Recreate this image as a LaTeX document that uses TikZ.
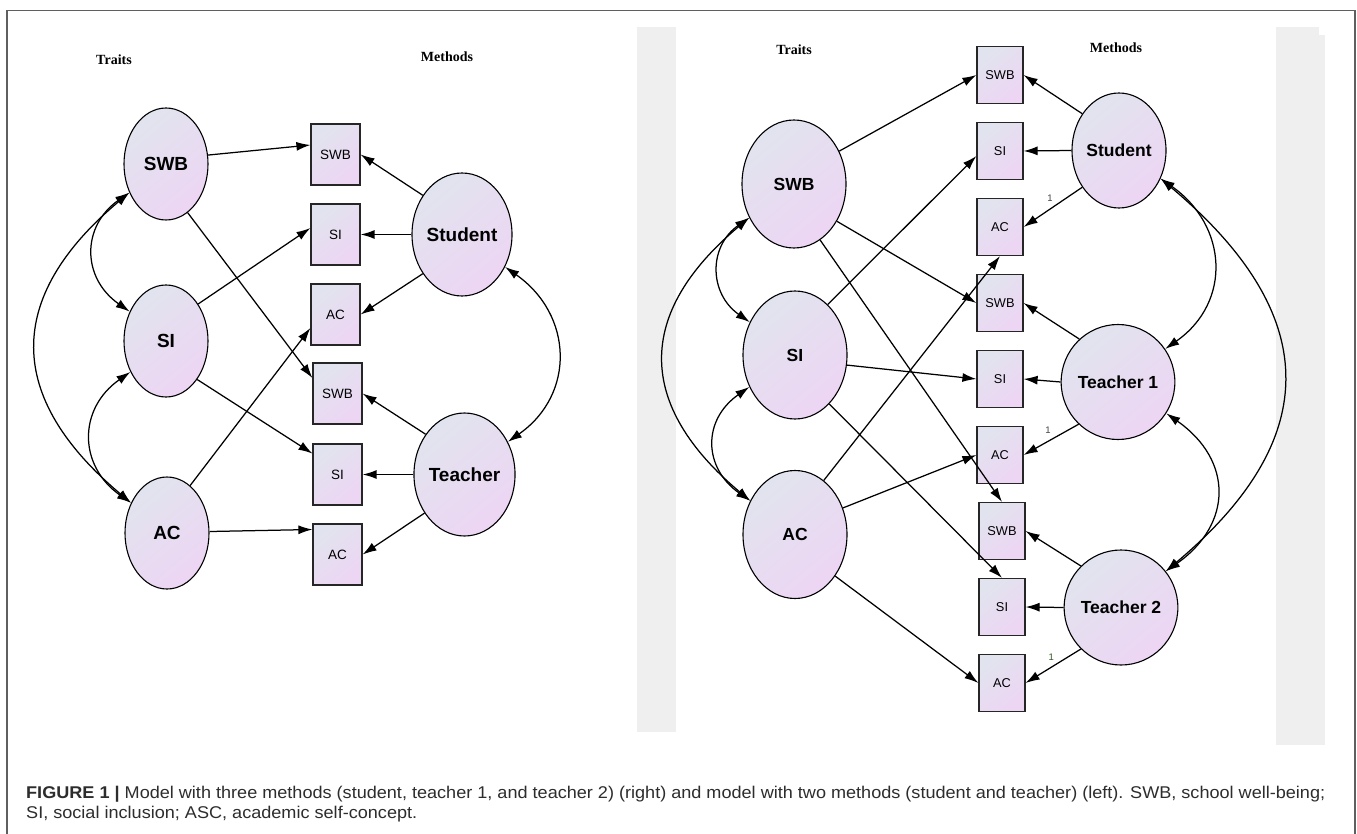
\documentclass[tikz,border=0pt]{standalone}
\usepackage{fontspec}
\usepackage{graphicx}
\setmainfont{Liberation Sans}
\newfontfamily\tnr{Liberation Serif}
\usetikzlibrary{shapes.geometric,arrows.meta}
\definecolor{shA}{RGB}{225,228,238}
\definecolor{shB}{RGB}{237,213,244}
\definecolor{framecol}{RGB}{95,95,95}
\definecolor{band}{RGB}{239,239,239}
\definecolor{captxt}{RGB}{45,45,45}
\definecolor{onegreen}{RGB}{50,85,30}
\begin{document}
\begin{tikzpicture}[x=1pt,y=1pt,
  arr/.style={-{Latex[length=14pt,width=9pt]}, line width=1.25pt},
  cov/.style={{Latex[length=14pt,width=9pt]}-{Latex[length=14pt,width=9pt]}, line width=1.25pt},
  shadefill/.style={top color=shA, bottom color=shB, shading angle=40},
  latL/.style={ellipse, draw=black, line width=1.1pt, shadefill, inner sep=0pt,
    minimum width=84pt, minimum height=112pt, font=\bfseries\fontsize{19}{20}\selectfont},
  metL/.style={ellipse, draw=black, line width=1.1pt, shadefill, inner sep=0pt,
    minimum width=100pt, minimum height=123pt, font=\bfseries\fontsize{19}{20}\selectfont},
  latR/.style={ellipse, draw=black, line width=1.1pt, shadefill, inner sep=0pt,
    minimum width=104pt, minimum height=128pt, font=\bfseries\fontsize{17.5}{18}\selectfont},
  metR/.style={ellipse, draw=black, line width=1.1pt, shadefill, inner sep=0pt,
    minimum width=94pt, minimum height=115pt, font=\bfseries\fontsize{17.5}{18}\selectfont},
  obsL/.style={rectangle, draw=black!85, line width=1.2pt, shadefill, inner sep=0pt,
    minimum width=49pt, minimum height=61pt, font=\fontsize{13.5}{14}\selectfont},
  obsR/.style={rectangle, draw=black!85, line width=1.2pt, shadefill, inner sep=0pt,
    minimum width=46pt, minimum height=57pt, font=\fontsize{12.8}{13}\selectfont},
  head/.style={font=\tnr\bfseries\fontsize{14}{14}\selectfont, inner sep=0pt},
  one/.style={font=\fontsize{9.5}{10}\selectfont, inner sep=0pt, text=black!75}
]
\useasboundingbox (0,0) rectangle (1357,-834);
\fill[white] (0,0) rectangle (1357,-834);
% frame
\draw[framecol, line width=1.4pt] (7,-840) -- (7,-10.5) -- (1355,-10.5) -- (1355,-840);
% grey bands of the right picture
\fill[band] (637,-27) rectangle (676,-732);
\fill[band] (1276,-27) rectangle (1319,-745);
\fill[band] (1318,-35) rectangle (1325,-745);

% ================= LEFT MODEL =================
\node[head] (lTr) at (114,-60) {Traits};
\node[head] (lMe) at (447,-57) {Methods};

\node[latL] (lS) at (166,-164) {SWB};
\node[latL] (lI) at (166,-341) {SI};
\node[latL] (lA) at (167,-533) {AC};
\node[metL] (lSt) at (462,-234.5) {Student};
\node[metL] (lT) at (464.5,-474.5) {Teacher};

\node[obsL] (lb1) at (335.5,-154.5) {SWB};
\node[obsL] (lb2) at (335.5,-234.5) {SI};
\node[obsL] (lb3) at (335.5,-314.5) {AC};
\node[obsL] (lb4) at (337.5,-393.5) {SWB};
\node[obsL] (lb5) at (337.5,-474.5) {SI};
\node[obsL] (lb6) at (337.5,-554.5) {AC};

\draw[arr] (lS.12) -- ([yshift=9.5pt]lb1.west);
\draw[arr] (lS.-66) -- ([yshift=15.5pt]lb4.west);
\draw[arr] (lI.49) -- ([yshift=6.5pt]lb2.west);
\draw[arr] (lI.-51) -- ([yshift=21pt]lb5.west);
\draw[arr] (lA.64) -- ([yshift=-13.5pt]lb3.west);
\draw[arr] (lA.2) -- ([yshift=25pt]lb6.west);

\draw[arr] (lSt.135) -- (lb1.east);
\draw[arr] (lSt.west) -- (lb2.east);
\draw[arr] (lSt.225) -- (lb3.east);
\draw[arr] (lT.134) -- (lb4.east);
\draw[arr] (lT.west) -- (lb5.east);
\draw[arr] (lT.224) -- (lb6.east);

\draw[cov] (lS.218) to[out=215,in=145,distance=58.6pt] (lI.141);
\draw[cov] (lI.221) to[out=215,in=145,distance=64.3pt] (lA.140);
\draw[cov] (lS.218) to[out=220,in=140,distance=163.6pt] (lA.140);
\draw[cov] (lSt.-37) to[out=-35,in=35,distance=83pt] (lT.37);

% ================= RIGHT MODEL =================
\node[head] (rTr) at (794,-50) {Traits};
\node[head] (rMe) at (1116,-48) {Methods};

\node[latR] (rS) at (794,-184) {SWB};
\node[latR] (rI) at (795,-355) {SI};
\node[latR] (rA) at (795,-534.5) {AC};
\node[metR] (rSt) at (1119,-150.5) {Student};
\node[metR] (rT1) at (1118,-382) {Teacher 1};
\node[metR] (rT2) at (1121,-607.5) {Teacher 2};

\node[obsR] (rb1) at (1000,-75) {SWB};
\node[obsR] (rb2) at (1000,-151) {SI};
\node[obsR] (rb3) at (1000,-227) {AC};
\node[obsR] (rb4) at (1000,-303) {SWB};
\node[obsR] (rb5) at (1000,-379) {SI};
\node[obsR] (rb6) at (1000,-455) {AC};
\node[obsR] (rb7) at (1002,-531) {SWB};
\node[obsR] (rb8) at (1002,-607) {SI};
\node[obsR] (rb9) at (1002,-683) {AC};

\draw[arr] (rS.36) -- (rb1.west);
\draw[arr] (rS.-41) -- (rb4.west);
\draw[arr] (rS.-65) -- (rb7.north);
\draw[arr] (rI.57) -- ([yshift=-5pt]rb2.west);
\draw[arr] (rI.-11) -- (rb5.west);
\draw[arr] (rI.-55) -- (rb8.north);
\draw[arr] (rA.62) -- (rb3.south);
\draw[arr] (rA.29) -- (rb6.west);
\draw[arr] (rA.-46) -- (rb9.west);

\draw[arr] (rSt.135) -- (rb1.east);
\draw[arr] (rSt.west) -- (rb2.east);
\draw[arr] (rSt.225) -- node[one, pos=0.5, xshift=-3pt, yshift=9pt] (one1) {1} (rb3.east);
\draw[arr] (rT1.132) -- (rb4.east);
\draw[arr] (rT1.west) -- (rb5.east);
\draw[arr] (rT1.227) -- node[one, pos=0.5, xshift=-3pt, yshift=9pt] (one2) {1} (rb6.east);
\draw[arr] (rT2.134) -- (rb7.east);
\draw[arr] (rT2.west) -- (rb8.east);
\draw[arr] (rT2.226) -- node[one, pos=0.5, xshift=-2pt, yshift=9pt, text=onegreen] (one3) {1} (rb9.east);

\draw[cov] (rS.217) to[out=215,in=145,distance=50pt] (rI.144);
\draw[cov] (rI.215) to[out=215,in=145,distance=57.5pt] (rA.143.5);
\draw[cov] (rS.217) to[out=220,in=140,distance=149pt] (rA.143.5);
\draw[cov] (rSt.-34) to[out=-35,in=35,distance=81.8pt] (rT1.35.5);
\draw[cov] (rT1.-33.5) to[out=-35,in=35,distance=81.8pt] (rT2.39.5);
\draw[cov] (rSt.-34) to[out=-40,in=40,distance=209pt] (rT2.39.5);

% ================= CAPTION =================
\node[anchor=base west, inner sep=0pt, text=captxt] (cap1) at (26,-798)
  {\resizebox{1299pt}{\height}{\fontsize{17}{19}\selectfont\textbf{FIGURE 1 |} Model with three methods (student, teacher 1, and teacher 2) (right) and model with two methods (student and teacher) (left). SWB, school well-being;}};
\node[anchor=base west, inner sep=0pt, text=captxt] (cap2) at (26,-818)
  {\resizebox{391pt}{\height}{\fontsize{17}{19}\selectfont SI, social inclusion; ASC, academic self-concept.}};
\end{tikzpicture}
\end{document}
